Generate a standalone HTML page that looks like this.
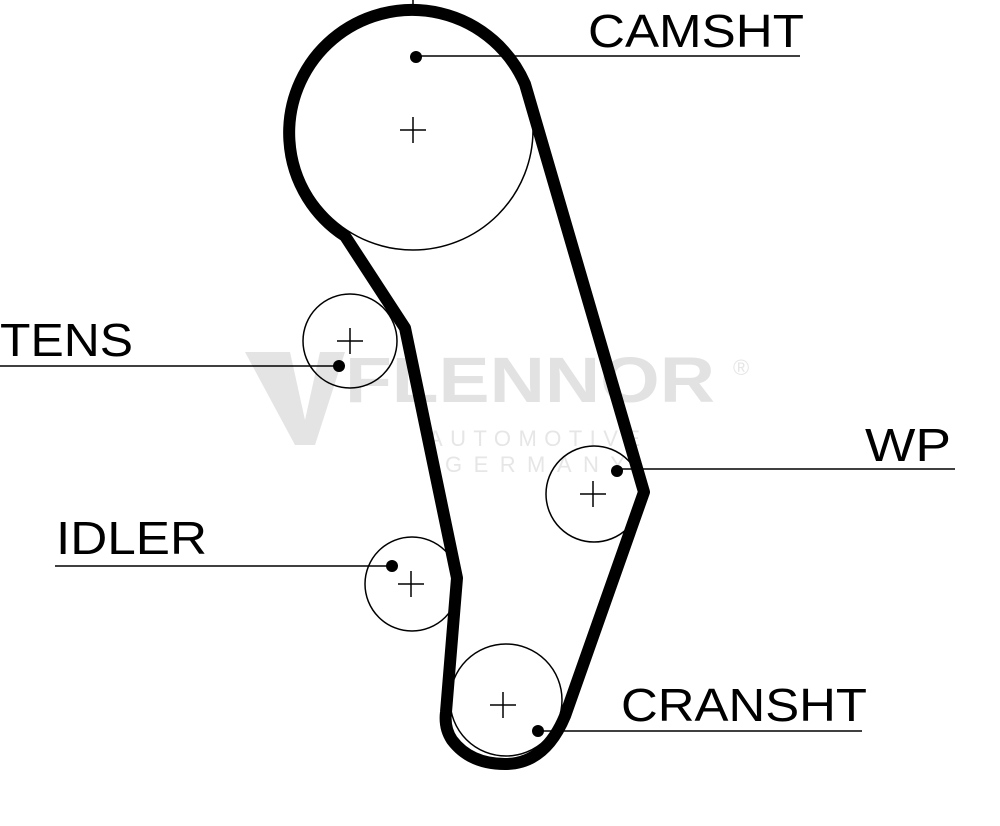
<!DOCTYPE html>
<html><head><style>body{margin:0;background:#fff}svg{display:block}</style></head><body>
<svg width="1000" height="826" viewBox="0 0 1000 826" xmlns="http://www.w3.org/2000/svg" font-family="Liberation Sans, sans-serif">
<rect width="1000" height="826" fill="#fff"/>
<g fill="#e4e4e4">
<polygon points="245,352 290,352 305,420 320,352 345,352 315,445 295,445"/>
<text x="345" y="402" font-size="64" font-weight="bold" fill="#e2e2e2" textLength="370" lengthAdjust="spacingAndGlyphs">FLENNOR</text>
<text x="428" y="446" font-size="22" fill="#e6e6e6" textLength="212" lengthAdjust="spacing">AUTOMOTIVE</text>
<text x="445" y="472" font-size="22" fill="#e6e6e6" textLength="180" lengthAdjust="spacing">GERMANY</text>
<text x="733" y="375" font-size="22" fill="#e6e6e6">®</text>
</g>
<g fill="none" stroke="#000" stroke-width="1.5">
<circle cx="413" cy="130" r="120"/>
<circle cx="350" cy="341" r="47"/>
<circle cx="594" cy="494" r="48"/>
<circle cx="412" cy="584" r="47"/>
<circle cx="506" cy="700" r="56"/>
</g>
<g stroke="#000" stroke-width="1.5">
<path d="M400,130h26M413,117v26M337,341h26M350,328v26M580,494h26M593,481v26M398,584h26M411,571v26M490,705h26M503,692v26"/>
<line x1="413" y1="56" x2="800" y2="56"/>
<line x1="0" y1="366" x2="340" y2="366"/>
<line x1="617" y1="469" x2="955" y2="469"/>
<line x1="55" y1="566" x2="392" y2="566"/>
<line x1="538" y1="731" x2="862" y2="731"/>
<line x1="413" y1="0" x2="413" y2="12"/>
</g>
<g fill="#000">
<circle cx="416" cy="57" r="6"/>
<circle cx="339" cy="366" r="6"/>
<circle cx="617" cy="471" r="6"/>
<circle cx="392" cy="566" r="6"/>
<circle cx="538" cy="731" r="6"/>
</g>
<path d="M405,328 L345,236 A123,123 0 1 1 525,84 L644,492 L565,716 Q545,764 505,764 Q470,764 452,740 Q444,728 446,712 L457,578 Z" fill="none" stroke="#000" stroke-width="12" stroke-linejoin="round"/>
<g fill="#000" font-size="46" lengthAdjust="spacingAndGlyphs">
<text x="588" y="47" textLength="216" lengthAdjust="spacingAndGlyphs">CAMSHT</text>
<text x="0" y="356" textLength="133" lengthAdjust="spacingAndGlyphs">TENS</text>
<text x="865" y="461" textLength="86" lengthAdjust="spacingAndGlyphs">WP</text>
<text x="56" y="554" textLength="151" lengthAdjust="spacingAndGlyphs">IDLER</text>
<text x="621" y="721" textLength="246" lengthAdjust="spacingAndGlyphs">CRANSHT</text>
</g>
</svg>
</body></html>
